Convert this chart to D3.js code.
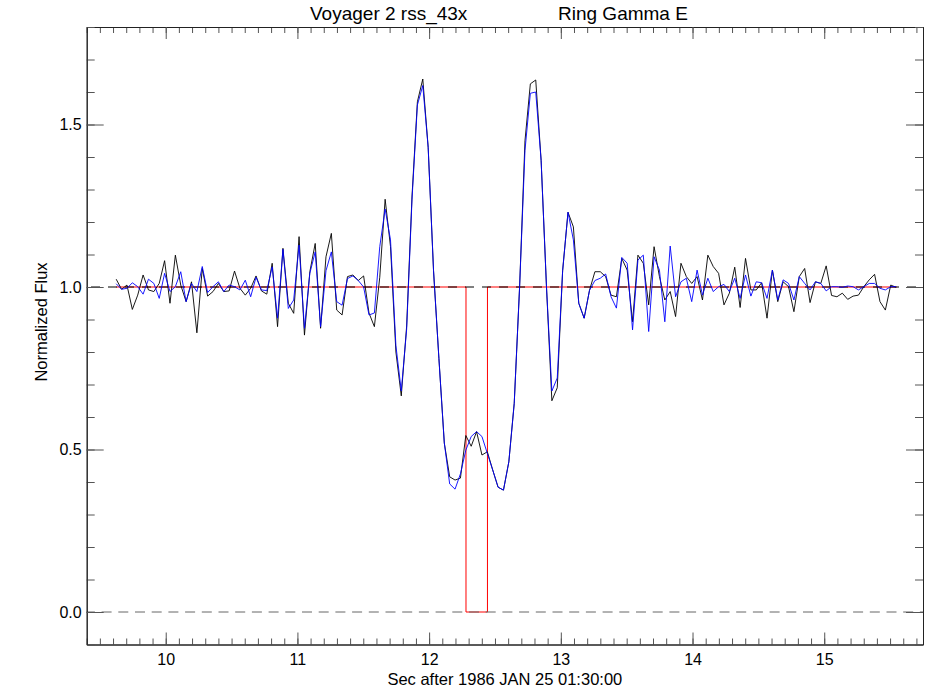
<!DOCTYPE html>
<html>
<head>
<meta charset="utf-8">
<script src="https://cdn.jsdelivr.net/npm/d3@7"></script>
<style>
  body { margin: 0; background: #fff; }
  text { font-family: "Liberation Sans", Arial, sans-serif; fill: #000; }
</style>
</head>
<body>
<div id="chart"></div>
<script>
// sample grid of the occultation scan (sec after 01:30:00)
const sampleStart = 9.624;
const sampleStep = 0.04084;

// black trace (raw normalized flux)
const fluxBlack = [
  1.024, 0.993, 1.006, 0.931, 0.975, 1.037, 0.991, 0.986, 1.011, 1.081,
  0.950, 1.098, 1.006, 0.955, 1.016, 0.859, 1.057, 0.972, 0.986, 1.011,
  0.986, 0.988, 1.049, 0.996, 0.975, 0.996, 1.034, 0.988, 0.978, 1.073,
  0.878, 1.119, 0.950, 0.919, 1.155, 0.852, 1.047, 1.134, 0.873, 1.093,
  1.165, 0.929, 0.914, 1.032, 1.037, 1.020, 1.034, 0.920, 0.878, 1.030,
  1.270, 1.124, 0.800, 0.665, 0.880, 1.280, 1.570, 1.640, 1.430, 1.050,
  0.780, 0.520, 0.416, 0.406, 0.412, 0.543, 0.510, 0.555, 0.483, 0.493,
  0.437, 0.384, 0.375, 0.462, 0.642, 1.000, 1.450, 1.625, 1.637, 1.390,
  1.000, 0.650, 0.690, 1.050, 1.230, 1.185, 0.950, 0.904, 0.990, 1.047,
  1.047, 1.032, 0.975, 0.970, 1.088, 1.052, 0.893, 1.098, 1.073, 0.945,
  1.124, 1.032, 0.960, 0.986, 0.909, 1.073, 1.032, 1.011, 1.032, 0.960,
  1.098, 1.063, 1.042, 0.945, 0.981, 1.061, 0.937, 1.088, 0.991, 0.991,
  1.013, 0.904, 1.052, 0.955, 1.016, 1.001, 0.924, 1.032, 1.057, 0.952,
  1.016, 1.011, 1.065, 0.974, 0.970, 0.981, 0.962, 0.972, 0.975, 1.001,
  1.022, 1.039, 0.955, 0.929, 1.006, 0.999
];

// blue trace (smoothed normalized flux)
const fluxBlue = [
  1.010, 0.993, 0.996, 1.013, 1.001, 0.978, 1.024, 1.011, 0.965, 1.042,
  0.986, 1.001, 1.047, 0.955, 1.011, 0.986, 1.063, 0.983, 1.001, 1.016,
  0.986, 1.006, 1.001, 0.991, 1.021, 0.970, 1.030, 0.991, 0.989, 1.062,
  0.904, 1.116, 0.934, 0.960, 1.129, 0.873, 1.042, 1.108, 0.878, 1.050,
  1.108, 0.955, 0.944, 1.026, 1.034, 1.020, 1.000, 0.914, 0.920, 1.124,
  1.240, 1.145, 0.820, 0.680, 0.870, 1.270, 1.560, 1.620, 1.430, 1.050,
  0.780, 0.520, 0.394, 0.378, 0.425, 0.498, 0.540, 0.555, 0.540, 0.488,
  0.437, 0.384, 0.375, 0.462, 0.642, 1.000, 1.420, 1.596, 1.600, 1.390,
  1.000, 0.680, 0.720, 1.050, 1.230, 1.145, 0.950, 0.904, 0.990, 1.020,
  1.027, 1.040, 0.970, 0.935, 1.091, 1.073, 0.868, 1.083, 1.098, 0.863,
  1.093, 1.052, 0.893, 1.126, 0.970, 1.016, 1.027, 0.955, 1.052, 0.975,
  1.027, 0.986, 1.001, 1.008, 0.986, 1.027, 0.965, 1.037, 0.972, 1.016,
  1.013, 0.965, 1.052, 0.960, 1.022, 1.011, 0.960, 1.032, 1.011, 0.991,
  1.016, 1.011, 0.988, 1.001, 1.001, 0.999, 1.003, 1.001, 0.991, 1.001,
  1.011, 1.011, 0.996, 0.991, 1.001, 1.001
];

// red square-well ring model
const modelTime = [9.624, 12.28, 12.28, 12.443, 12.443, 15.55];
const modelFlux = [1, 1, 0, 0, 1, 1];

const xMajorTicks = [10, 11, 12, 13, 14, 15];
const yMajorTicks = [0, 0.5, 1.0, 1.5];

const titleLeft = "Voyager 2 rss_43x";
const titleRight = "Ring Gamma E";
const xTitle = "Sec after 1986 JAN 25 01:30:00";
const yTitle = "Normalized Flux";

function drawChart() {
    let width = 950;
    let height = 700;
    let left = 86.7, right = 923, top = 27, bottom = 644.5;

    let svg = d3.select("#chart")
        .append("svg")
        .attr("width", width)
        .attr("height", height);

    let x = d3.scaleLinear().domain([9.4, 15.75]).range([left, right]);
    let y = d3.scaleLinear().domain([-0.1, 1.8]).range([bottom, top]);

    let times = fluxBlack.map((d, i) => sampleStart + i * sampleStep);

    // model step
    let model = modelTime.map((t, i) => [t, modelFlux[i]]);
    svg.append("path")
        .datum(model)
        .attr("fill", "none")
        .attr("stroke", "#ff0000")
        .attr("stroke-width", 1)
        .attr("d", d3.line().x(d => x(d[0])).y(d => y(d[1])));

    // reference levels
    svg.append("line")
        .attr("x1", x(9.4)).attr("x2", x(15.75))
        .attr("y1", y(1)).attr("y2", y(1))
        .attr("stroke", "#000")
        .attr("stroke-dasharray", "9,8")
        .attr("stroke-dashoffset", 12.7);

    svg.append("line")
        .attr("x1", x(9.4)).attr("x2", x(15.75))
        .attr("y1", y(0)).attr("y2", y(0))
        .attr("stroke", "#666")
        .attr("stroke-dasharray", "10,6.7")
        .attr("stroke-dashoffset", 1.8);

    let line = d3.line()
        .x((d, i) => x(times[i]))
        .y(d => y(d));

    svg.append("path")
        .datum(fluxBlack)
        .attr("fill", "none")
        .attr("stroke", "#000")
        .attr("stroke-width", 0.9)
        .attr("d", line);

    svg.append("path")
        .datum(fluxBlue)
        .attr("fill", "none")
        .attr("stroke", "#0000ff")
        .attr("stroke-width", 0.9)
        .attr("d", line);

    // axes, ticks pointing inward on all four sides
    let xMinor = x.ticks(60);
    let yMinor = y.ticks(19);

    let axisGroups = [
        [d3.axisBottom(x).tickValues(xMinor).tickSize(-6).tickFormat(""), bottom],
        [d3.axisTop(x).tickValues(xMinor).tickSize(-6).tickFormat(""), top],
        [d3.axisBottom(x).tickValues(xMajorTicks).tickSize(-12).tickPadding(9).tickFormat(d3.format("d")), bottom],
        [d3.axisTop(x).tickValues(xMajorTicks).tickSize(-12).tickFormat(""), top]
    ];
    axisGroups.forEach(function (a) {
        svg.append("g")
            .attr("class", "xaxis")
            .attr("transform", "translate(0," + a[1] + ")")
            .call(a[0].tickSizeOuter(0));
    });

    let yGroups = [
        [d3.axisLeft(y).tickValues(yMinor).tickSize(-8).tickFormat(""), left],
        [d3.axisRight(y).tickValues(yMinor).tickSize(-8).tickFormat(""), right],
        [d3.axisLeft(y).tickValues(yMajorTicks).tickSize(-17).tickPadding(5).tickFormat(d3.format(".1f")), left],
        [d3.axisRight(y).tickValues(yMajorTicks).tickSize(-17).tickFormat(""), right]
    ];
    yGroups.forEach(function (a) {
        svg.append("g")
            .attr("class", "yaxis")
            .attr("transform", "translate(" + a[1] + ",0)")
            .call(a[0].tickSizeOuter(0));
    });

    svg.selectAll(".xaxis path, .yaxis path").attr("stroke", "#222");
    svg.selectAll(".xaxis line, .yaxis line").attr("stroke", "#555");
    svg.selectAll(".xaxis text, .yaxis text")
        .attr("fill", "#000")
        .style("font-family", "'Liberation Sans', Arial, sans-serif")
        .style("font-size", "16px");
    svg.selectAll(".xaxis text").attr("dy", "0.71em");

    // titles
    svg.append("text")
        .text(titleLeft)
        .attr("x", 310)
        .attr("y", 20)
        .style("font-size", "19px");

    svg.append("text")
        .text(titleRight)
        .attr("x", 558)
        .attr("y", 20)
        .style("font-size", "19px");

    svg.append("text")
        .text(xTitle)
        .attr("x", (left + right) / 2)
        .attr("y", 685)
        .attr("text-anchor", "middle")
        .style("font-size", "16.5px");

    svg.append("text")
        .text(yTitle)
        .attr("transform", "translate(47," + 322 + ") rotate(-90)")
        .attr("text-anchor", "middle")
        .style("font-size", "16.5px");
}

drawChart();
</script>
</body>
</html>
